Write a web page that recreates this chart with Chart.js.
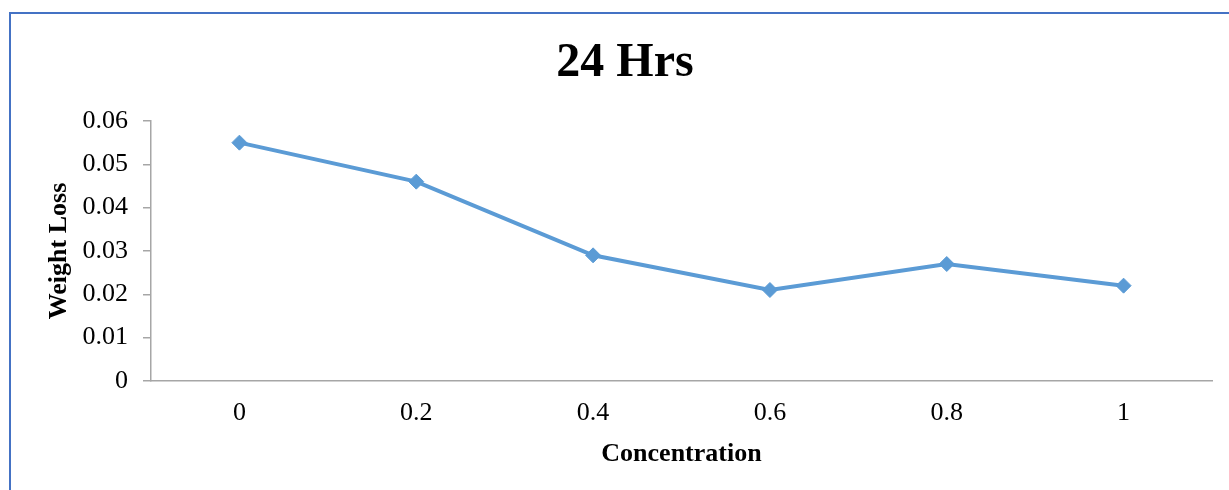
<!DOCTYPE html>
<html>
<head>
<meta charset="utf-8">
<script src="https://cdn.jsdelivr.net/npm/chart.js@4.4.0/dist/chart.umd.min.js"></script>
<style>
  html, body { margin: 0; padding: 0; background: #ffffff; overflow: hidden; }
  #frame {
    position: absolute; left: 9px; top: 12px;
    width: 1260px; height: 520px;
    border: 2.5px solid #4472C4; box-sizing: border-box;
  }
  #wrap { position: absolute; left: 0; top: 0; width: 1229px; height: 490px; }
</style>
</head>
<body>
<div id="frame"></div>
<div id="wrap"><canvas id="chart" width="1229" height="490"></canvas></div>
<script>
// Weight loss after 24 hours at each concentration
const concentrations = ['0', '0.2', '0.4', '0.6', '0.8', '1'];
const weightLoss = [0.055, 0.046, 0.029, 0.021, 0.027, 0.022];
const yTickValues = [0, 0.01, 0.02, 0.03, 0.04, 0.05, 0.06];
const yTickLabels = ['0', '0.01', '0.02', '0.03', '0.04', '0.05', '0.06'];

const serif = "'Liberation Serif', 'Times New Roman', serif";
const axisGrey = '#A6A6A6';

new Chart(document.getElementById('chart'), {
  type: 'line',
  data: {
    labels: concentrations,
    datasets: [{
      data: weightLoss,
      borderColor: '#5B9BD5',
      backgroundColor: '#5B9BD5',
      borderWidth: 4,
      pointStyle: 'rectRot',
      pointRadius: 7.5,
      pointBorderWidth: 1,
      pointBackgroundColor: '#5B9BD5',
      pointBorderColor: '#5B9BD5',
      tension: 0,
      fill: false
    }]
  },
  options: {
    responsive: false,
    animation: false,
    layout: { padding: { left: 38, right: 17, top: 0, bottom: 10 } },
    plugins: {
      legend: { display: false },
      tooltip: { enabled: false },
      title: {
        display: true,
        text: '24 Hrs',
        color: '#000000',
        font: { family: serif, size: 48, weight: 'bold', lineHeight: 1.2 },
        padding: { top: 35, bottom: 28.4 }
      }
    },
    scales: {
      x: {
        type: 'category',
        offset: true,
        grid: { display: true, drawOnChartArea: false, drawTicks: false },
        border: { display: true, color: axisGrey, width: 1.5 },
        ticks: {
          color: '#000000',
          padding: 17,
          maxRotation: 0,
          font: { family: serif, size: 26 }
        },
        title: {
          display: true,
          text: 'Concentration',
          color: '#000000',
          font: { family: serif, size: 26, weight: 'bold', lineHeight: 1.2 },
          padding: { top: 0, bottom: 10 }
        },
        afterFit(scale) { scale.height = 99; }
      },
      y: {
        min: 0,
        max: 0.06,
        grid: { display: true, drawOnChartArea: false, drawTicks: true, tickLength: 8, color: axisGrey, lineWidth: 1.5 },
        border: { display: true, color: axisGrey, width: 1.5 },
        afterBuildTicks(scale) { scale.ticks = yTickValues.map(v => ({ value: v })); },
        ticks: {
          color: '#000000',
          padding: 15,
          font: { family: serif, size: 26 },
          callback: (value, index) => yTickLabels[index]
        },
        title: {
          display: true,
          text: 'Weight Loss',
          color: '#000000',
          font: { family: serif, size: 26, weight: 'bold', lineHeight: 1.2 },
          padding: { top: 6, bottom: 0 }
        },
        afterFit(scale) { scale.width = 113; }
      }
    }
  }
});
</script>
</body>
</html>
